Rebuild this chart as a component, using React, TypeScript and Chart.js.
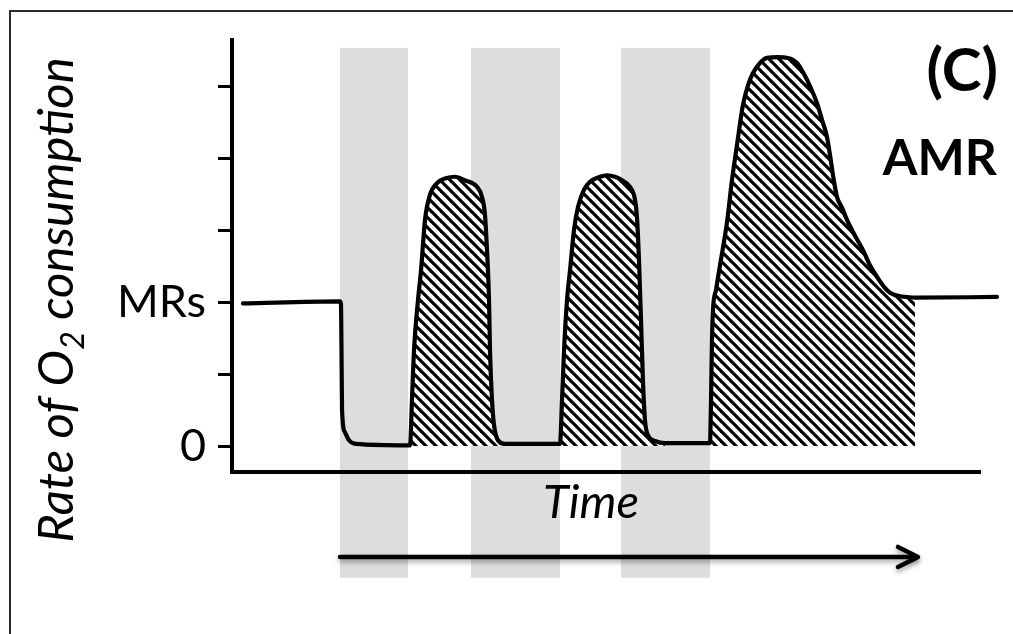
import React, { useEffect, useRef } from "react";
import { Chart, registerables } from "chart.js";

Chart.register(...registerables);

// ---- Data (time units along x, rate units along y; 1 y-unit = one tick step) ----
const curveTime: number[] = [
  1.47, 14.44, 14.57, 14.64, 14.71, 15.11, 15.64, 16.58, 23.53,
  23.8, 24.06, 24.33, 24.87, 25.27, 25.8, 26.47, 27.41, 28.61, 29.81, 31.15, 32.75, 33.42, 33.82, 34.09, 34.36, 34.49, 34.76, 35.03, 35.56, 36.5,
  43.85, 44.12, 44.39, 44.79, 45.19, 45.72, 46.26, 47.06, 47.86, 49.2, 50.13, 51.2, 52.14, 53.21, 53.88, 54.14, 54.41, 54.68, 54.95, 55.21, 55.61, 56.55, 57.89,
  63.9, 64.04, 64.17, 64.3, 64.71, 65.24, 66.18, 66.84, 67.51, 68.32, 68.98, 69.65, 70.59, 71.52, 72.99, 74.33, 75.53, 76.34, 77.27, 78.21, 78.88, 79.55, 79.95, 80.35, 80.88, 81.55, 82.22, 83.29, 84.36, 85.29, 86.23, 87.17, 87.97, 89.3, 90.24, 91.31, 102.27,
];
const curveRate: number[] = [
  1.98, 2.01, 1.97, 1.33, 0.5, 0.19, 0.08, 0.03, 0.01,
  0.01, 0.64, 1.33, 2.03, 2.44, 3.14, 3.49, 3.65, 3.72, 3.74, 3.69, 3.6, 3.46, 3.21, 2.72, 2.03, 1.33, 0.64, 0.29, 0.08, 0.03,
  0.03, 0.64, 1.33, 2.03, 2.44, 3.0, 3.32, 3.56, 3.67, 3.74, 3.76, 3.74, 3.69, 3.6, 3.42, 3.18, 2.58, 1.75, 0.88, 0.36, 0.15, 0.07, 0.04,
  0.04, 0.64, 1.47, 1.89, 2.17, 2.51, 3.11, 3.69, 4.18, 4.74, 5.01, 5.18, 5.32, 5.39, 5.4, 5.39, 5.32, 5.19, 5.0, 4.76, 4.53, 4.29, 4.04, 3.76, 3.46, 3.31, 3.14, 2.92, 2.72, 2.51, 2.35, 2.21, 2.13, 2.08, 2.07, 2.06, 2.07,
];

// hatched (recovery) areas: [start, end] in time units
const hatchStarts: number[] = [23.8, 43.85, 63.9];
const hatchEnds: number[] = [36.5, 57.89, 91.31];

// grey shaded intervals
const bandStarts: number[] = [14.44, 31.95, 52.01];
const bandEnds: number[] = [23.53, 43.85, 63.9];
const bandTop = 5.53;
const bandBottom = -1.83;

// time arrow
const arrowFrom = 14.44;
const arrowTo = 91.71;
const arrowLevel = -1.54;

// y ticks
const yTickValues: number[] = [0, 1, 2, 3, 4, 5];
const yTickLabels: string[] = ["0", "", "MRs", "", "", ""];

const xMin = 0;
const xMax = 100;
const yMin = -0.361;
const yMax = 5.639;

const FONT = "Lato";

function makeHatch(): CanvasPattern | string {
  const s = 10;
  const c = document.createElement("canvas");
  c.width = s;
  c.height = s;
  const g = c.getContext("2d");
  if (!g) return "#000";
  g.fillStyle = "#fff";
  g.fillRect(0, 0, s, s);
  g.strokeStyle = "#000";
  g.lineWidth = 3.2;
  for (const k of [-s, 0, s]) {
    g.beginPath();
    g.moveTo(-2, -2 + k);
    g.lineTo(s + 2, s + 2 + k);
    g.stroke();
  }
  const p = g.createPattern(c, "repeat");
  return p || "#000";
}

const decorPlugin = {
  id: "decor",
  beforeDraw(chart: any) {
    const { ctx } = chart;
    const x = chart.scales.x;
    const y = chart.scales.y;
    ctx.save();
    ctx.fillStyle = "#ffffff";
    ctx.fillRect(0, 0, chart.width, chart.height);
    ctx.fillStyle = "#dddddd";
    const yT = y.getPixelForValue(bandTop);
    const yB = y.getPixelForValue(bandBottom);
    bandStarts.forEach((s, i) => {
      const x0 = x.getPixelForValue(s);
      const x1 = x.getPixelForValue(bandEnds[i]);
      ctx.fillRect(x0, yT, x1 - x0, yB - yT);
    });
    ctx.restore();
  },
  afterDraw(chart: any) {
    const { ctx } = chart;
    const x = chart.scales.x;
    const y = chart.scales.y;
    ctx.save();

    // outer frame (top and left edges visible)
    ctx.strokeStyle = "#2a2a2a";
    ctx.lineWidth = 2;
    ctx.beginPath();
    ctx.moveTo(10, chart.height);
    ctx.lineTo(10, 11);
    ctx.lineTo(chart.width, 11);
    ctx.stroke();

    // time arrow
    const ax0 = x.getPixelForValue(arrowFrom);
    const ax1 = x.getPixelForValue(arrowTo);
    const ay = y.getPixelForValue(arrowLevel);
    ctx.save();
    ctx.shadowColor = "rgba(0,0,0,0.35)";
    ctx.shadowBlur = 5;
    ctx.shadowOffsetY = 3;
    ctx.strokeStyle = "#000";
    ctx.lineWidth = 4.5;
    ctx.lineCap = "round";
    ctx.lineJoin = "round";
    ctx.beginPath();
    ctx.moveTo(ax0, ay);
    ctx.lineTo(ax1 - 2, ay);
    ctx.stroke();
    ctx.beginPath();
    ctx.moveTo(ax1 - 20, ay - 10);
    ctx.lineTo(ax1, ay);
    ctx.lineTo(ax1 - 20, ay + 10);
    ctx.stroke();
    ctx.restore();

    ctx.fillStyle = "#000";
    // x-axis title
    ctx.font = `italic 47px ${FONT}`;
    ctx.textAlign = "center";
    ctx.textBaseline = "alphabetic";
    ctx.fillText("Time", 591, 518);

    // panel labels
    ctx.textAlign = "right";
    ctx.font = `bold 60px ${FONT}`;
    ctx.textBaseline = "middle";
    ctx.fillText("(C)", 998, 72);
    ctx.font = `bold 50px ${FONT}`;
    ctx.textBaseline = "alphabetic";
    ctx.fillText("AMR", 997, 175);

    // y-axis title with subscript
    ctx.save();
    ctx.translate(73, 300);
    ctx.rotate(-Math.PI / 2);
    const mainFont = `italic 49px ${FONT}`;
    const subFont = `italic 32px ${FONT}`;
    const p1 = "Rate of O";
    const p2 = "2";
    const p3 = " consumption";
    ctx.font = mainFont;
    const w1 = ctx.measureText(p1).width;
    const w3 = ctx.measureText(p3).width;
    ctx.font = subFont;
    const w2 = ctx.measureText(p2).width;
    const total = w1 + w2 + w3;
    let cx = -total / 2;
    ctx.textAlign = "left";
    ctx.textBaseline = "alphabetic";
    ctx.font = mainFont;
    ctx.fillText(p1, cx, 0);
    cx += w1;
    ctx.font = subFont;
    ctx.fillText(p2, cx, 11);
    cx += w2;
    ctx.font = mainFont;
    ctx.fillText(p3, cx, 0);
    ctx.restore();

    ctx.restore();
  },
};

export default function App() {
  const ref = useRef<HTMLCanvasElement | null>(null);

  useEffect(() => {
    if (!ref.current) return;
    const hatch = makeHatch();
    const curve = curveTime.map((t, i) => ({ x: t, y: curveRate[i] }));
    const hatchSets = hatchStarts.map((s, k) => ({
      data: curve.filter((p) => p.x >= s - 1e-6 && p.x <= hatchEnds[k] + 1e-6),
      borderWidth: 0,
      borderColor: "rgba(0,0,0,0)",
      backgroundColor: hatch as any,
      fill: "origin",
      pointRadius: 0,
      cubicInterpolationMode: "monotone" as const,
    }));

    const chart = new Chart(ref.current, {
      type: "line",
      data: {
        datasets: [
          {
            data: curve,
            borderColor: "#000",
            borderWidth: 4.2,
            fill: false,
            pointRadius: 0,
            cubicInterpolationMode: "monotone",
            borderJoinStyle: "round",
            borderCapStyle: "round",
            clip: false as any,
          },
          ...hatchSets,
        ] as any,
      },
      options: {
        animation: false,
        responsive: true,
        maintainAspectRatio: false,
        events: [],
        layout: { padding: { left: 0, top: 40, right: 33, bottom: 0 } },
        plugins: {
          legend: { display: false },
          tooltip: { enabled: false },
        },
        scales: {
          x: {
            type: "linear",
            min: xMin,
            max: xMax,
            ticks: { display: false },
            grid: { display: false },
            border: { display: true, color: "#000", width: 4 },
            afterFit: (s: any) => {
              s.height = 162;
            },
          },
          y: {
            type: "linear",
            min: yMin,
            max: yMax,
            afterBuildTicks: (s: any) => {
              s.ticks = yTickValues.map((v) => ({ value: v }));
            },
            ticks: {
              autoSkip: false,
              color: "#000",
              padding: 12,
              font: { family: FONT, size: 45 },
              callback: (v: any) => {
                const i = yTickValues.indexOf(Number(v));
                return i >= 0 ? yTickLabels[i] : "";
              },
            },
            grid: {
              drawOnChartArea: false,
              drawTicks: true,
              tickLength: 14,
              tickWidth: 3,
              tickColor: "#000",
            },
            border: { display: true, color: "#000", width: 4 },
            afterFit: (s: any) => {
              s.width = 232;
            },
          },
        },
      } as any,
      plugins: [decorPlugin],
    });

    let alive = true;
    if ((document as any).fonts && (document as any).fonts.ready) {
      Promise.all([
        (document as any).fonts.load(`45px ${FONT}`),
        (document as any).fonts.load(`italic 47px ${FONT}`),
        (document as any).fonts.load(`bold 50px ${FONT}`),
      ])
        .catch(() => null)
        .then(() => {
          if (alive) chart.update();
        });
    }

    return () => {
      alive = false;
      chart.destroy();
    };
  }, []);

  return (
    <div
      style={{
        position: "fixed",
        left: 0,
        top: 0,
        width: "1013px",
        height: "634px",
        background: "#fff",
      }}
    >
      <canvas ref={ref} />
    </div>
  );
}
